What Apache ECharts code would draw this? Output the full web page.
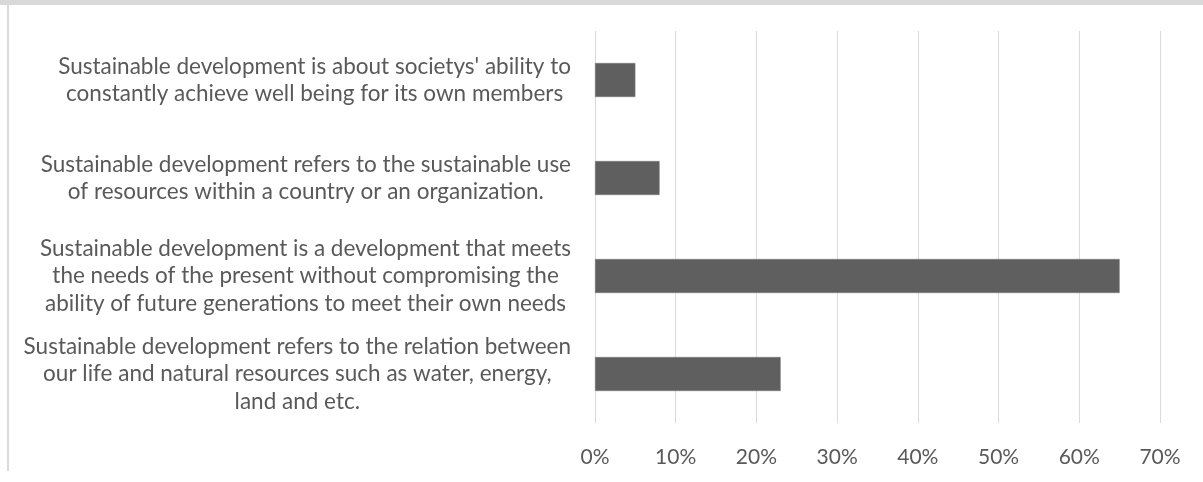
<!DOCTYPE html>
<html>
<head>
<meta charset="utf-8">
<script src="https://cdn.jsdelivr.net/npm/echarts@6/dist/echarts.min.js"></script>
<style>
    html, body { margin: 0; padding: 0; background: #fff; }
    #wrap { position: relative; width: 1203px; height: 482px; overflow: hidden; }
    #topLine { position: absolute; left: 0; top: 0; width: 1203px; height: 5px; background: #d9d9d9; }
    #leftLine { position: absolute; left: 7px; top: 5px; width: 2px; height: 466px; background: #d9d9d9; }
    #chart { position: absolute; left: 0; top: 0; width: 1203px; height: 482px; }
</style>
</head>
<body>
<div id="wrap">
    <div id="chart"></div>
    <div id="topLine"></div>
    <div id="leftLine"></div>
</div>
<script>
// categories, bottom to top as the axis draws them
var categories = [
    "Sustainable development refers to the relation between\nour life and natural resources such as water, energy,\nland and etc.",
    "Sustainable development is a development that meets\nthe needs of the present without compromising the\nability of future generations to meet their own needs",
    "Sustainable development refers to the sustainable use\nof resources within a country or an organization.",
    "Sustainable development is about societys' ability to\nconstantly achieve well being for its own members"
];
var shares = [23, 65, 8, 5];
var xTicks = [0, 10, 20, 30, 40, 50, 60, 70];

var textColor = '#595959';
var font = 'Lato, "Liberation Sans", sans-serif';

var chart = echarts.init(document.getElementById('chart'));
chart.setOption({
    animation: false,
    grid: {
        left: 595,
        right: 43,
        top: 31,
        bottom: 59
    },
    xAxis: {
        type: 'value',
        min: xTicks[0],
        max: xTicks[xTicks.length - 1],
        interval: 10,
        axisLine: { show: false },
        axisTick: { show: false },
        splitLine: { lineStyle: { color: '#d9d9d9', width: 1 } },
        axisLabel: {
            formatter: '{value}%',
            color: textColor,
            fontFamily: font,
            fontSize: 21,
            margin: 24
        }
    },
    yAxis: {
        type: 'category',
        data: categories,
        axisLine: { show: false },
        axisTick: { show: false },
        axisLabel: {
            align: 'right',
            margin: 24,
            // each line centred inside the right-aligned block, like Excel does
            formatter: function (v) {
                return v.split('\n').map(function (l) { return '{c|' + l + '}'; }).join('\n');
            },
            rich: {
                c: {
                    align: 'center',
                    color: textColor,
                    fontFamily: font,
                    fontSize: 22.5,
                    lineHeight: 27.5
                }
            }
        }
    },
    series: [{
        type: 'bar',
        data: shares,
        barWidth: 34,
        itemStyle: {
            color: '#5f5f5f',
            borderColor: '#7a7a7a',
            borderWidth: 0.5
        }
    }]
});
</script>
</body>
</html>
